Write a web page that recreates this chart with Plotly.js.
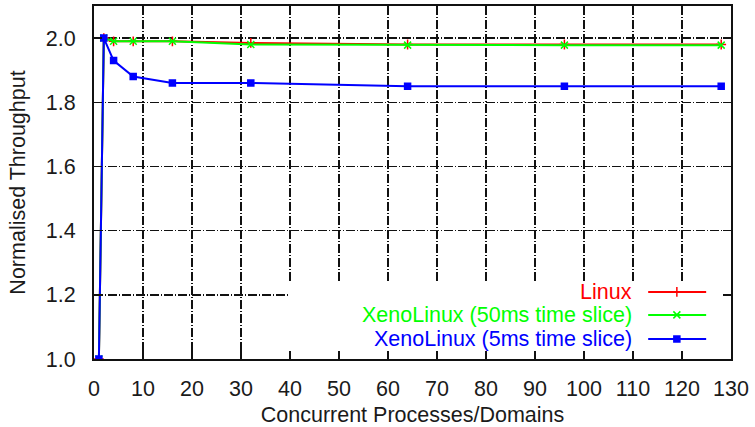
<!DOCTYPE html>
<html>
<head>
<meta charset="utf-8">
<script src="https://cdn.plot.ly/plotly-3.0.1.min.js"></script>
<style>html,body{margin:0;padding:0;background:#fff;}#chart{width:755px;height:427px;}</style>
</head>
<body>
<div id="chart"></div>
<script>
const procs = [1, 2, 4, 8, 16, 32, 64, 96, 128];
const linux = [1.0, 2.0, 1.99, 1.99, 1.99, 1.985, 1.98, 1.98, 1.98];
const xeno50 = [1.0, 2.0, 1.99, 1.99, 1.99, 1.98, 1.978, 1.978, 1.978];
const xeno5 = [1.0, 2.0, 1.93, 1.88, 1.86, 1.86, 1.85, 1.85, 1.85];
const seriesNames = ['Linux', 'XenoLinux (50ms time slice)', 'XenoLinux (5ms time slice)'];
const seriesColors = ['#ff0000', '#00ff00', '#0000ff'];
const seriesSymbols = ['cross-thin-open', 'x-thin-open', 'square-x'];
const xTicks = [0,10,20,30,40,50,60,70,80,90,100,110,120,130];
const yTicks = [1.0,1.2,1.4,1.6,1.8,2.0];

const seriesData = [linux, xeno50, xeno5];
const font = 'Liberation Sans, Arial, sans-serif';
const fs = 21.5;
const traces = [];
seriesData.forEach((vals, i) => {
  traces.push({
    x: procs, y: vals, type: 'scatter', mode: 'lines+markers',
    name: seriesNames[i], showlegend: false,
    line: {color: seriesColors[i], width: 2},
    marker: {symbol: seriesSymbols[i], size: i === 2 ? 6 : 7, color: seriesColors[i],
             line: {color: seriesColors[i], width: 1.5}}
  });
});
const legY = [0.190, 0.125, 0.057];
const annotations = [];
seriesNames.forEach((n, i) => {
  traces.push({
    x: [0.870, 0.961], y: [legY[i], legY[i]], xaxis: 'x2', yaxis: 'y2',
    type: 'scatter', mode: 'lines', showlegend: false, hoverinfo: 'skip',
    line: {color: seriesColors[i], width: 2}
  });
  traces.push({
    x: [0.915], y: [legY[i]], xaxis: 'x2', yaxis: 'y2',
    type: 'scatter', mode: 'markers', showlegend: false, hoverinfo: 'skip',
    marker: {symbol: seriesSymbols[i], size: i === 2 ? 6 : 7, color: seriesColors[i],
             line: {color: seriesColors[i], width: 1.5}}
  });
  annotations.push({
    xref: 'paper', yref: 'paper', x: 0.848, y: legY[i], xanchor: 'right', yanchor: 'middle',
    text: n, showarrow: false, font: {family: font, size: fs, color: seriesColors[i]}
  });
});

const gridDash = '9px,2px,1px,2px';
const layout = {
  width: 755, height: 427,
  margin: {l: 94, r: 24, t: 6, b: 68},
  paper_bgcolor: '#fff', plot_bgcolor: '#fff',
  showlegend: false,
  font: {family: font, size: fs, color: '#1a1a1a'},
  xaxis: {
    range: [0, 130], tickvals: xTicks, ticktext: xTicks.map(String),
    ticks: 'inside', ticklen: 8, tickcolor: '#111', tickwidth: 1.5,
    showline: true, linecolor: '#111', linewidth: 2, mirror: 'ticks',
    showgrid: true, gridcolor: '#111', gridwidth: 1.5, griddash: gridDash,
    zeroline: false, ticklabelstandoff: 9,
    title: {text: 'Concurrent Processes/Domains', font: {family: font, size: fs, color: '#1a1a1a'}, standoff: 9},
    automargin: false
  },
  yaxis: {
    range: [1.0, 2.1], tickvals: yTicks, ticktext: yTicks.map(v => v.toFixed(1)),
    ticks: 'inside', ticklen: 8, tickcolor: '#111', tickwidth: 1.5,
    showline: true, linecolor: '#111', linewidth: 2, mirror: 'ticks',
    showgrid: true, gridcolor: '#111', gridwidth: 1.5, griddash: gridDash,
    zeroline: false, ticklabelstandoff: 12,
    title: {text: 'Normalised Throughput', font: {family: font, size: fs, color: '#1a1a1a'}, standoff: 14},
    automargin: false
  },
  xaxis2: {overlaying: 'x', anchor: 'y2', range: [0, 1], visible: false, fixedrange: true},
  yaxis2: {overlaying: 'y', anchor: 'x2', range: [0, 1], visible: false, fixedrange: true},
  shapes: [{
    type: 'rect', xref: 'x', yref: 'y', x0: 39.7, x1: 130, y0: 1.0, y1: 1.243,
    fillcolor: '#fff', line: {width: 0}, layer: 'between'
  }],
  annotations: annotations
};
Plotly.newPlot('chart', traces, layout, {staticPlot: true, displayModeBar: false});
</script>
</body>
</html>
